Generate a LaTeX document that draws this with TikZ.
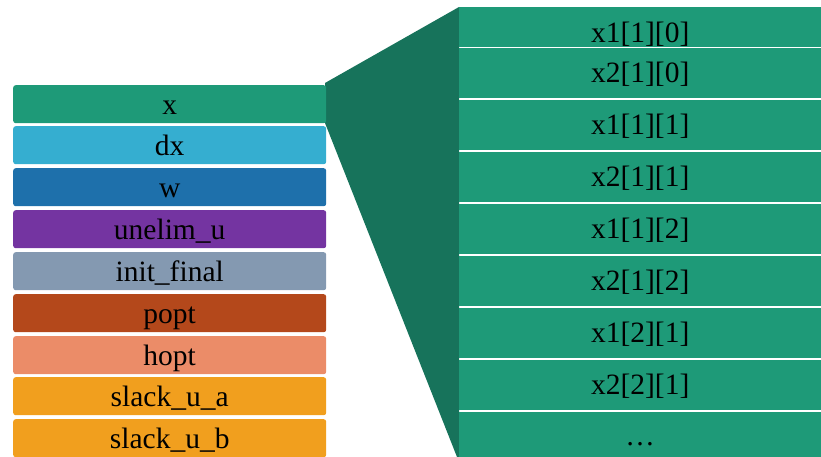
\documentclass[tikz,border=0pt]{standalone}
\usepackage{fontspec}
\setmainfont{Liberation Serif}
\definecolor{cx}{HTML}{1E9A78}
\definecolor{cdark}{HTML}{17735B}
\definecolor{cdx}{HTML}{35AED0}
\definecolor{cw}{HTML}{1E70AB}
\definecolor{cun}{HTML}{7434A1}
\definecolor{cinit}{HTML}{8499B1}
\definecolor{cpopt}{HTML}{B4481B}
\definecolor{chopt}{HTML}{EB8C68}
\definecolor{cslack}{HTML}{F19F1E}
\tikzset{
  lbox/.style={rectangle, rounded corners=2.5pt, minimum width=313pt, minimum height=38pt, inner sep=0pt, text height=20pt, text depth=0pt, anchor=north west, text=black, font=\fontsize{29.5}{34}\selectfont},
  rrow/.style={rectangle, fill=cx, minimum width=362pt, inner sep=0pt, text height=20pt, text depth=0pt, anchor=north west, text=black, font=\fontsize{29.5}{34}\selectfont},
}
\begin{document}
\begin{tikzpicture}[x=1pt,y=-1pt]
\useasboundingbox (0,0) rectangle (821,457);
% fan-out polygon
\fill[cdark] (325,83) -- (459,7) -- (459,457) -- (457,457) -- (325,123) -- cycle;
% left stack
\node[lbox, fill=cx]     (bx)  at (13,85)  {x};
\node[lbox, fill=cdx]    (bdx) at (13,126) {dx};
\node[lbox, fill=cw]     (bw)  at (13,168) {w};
\node[lbox, fill=cun]    (bun) at (13,210) {unelim\_u};
\node[lbox, fill=cinit]  (bin) at (13,252) {init\_final};
\node[lbox, fill=cpopt]  (bpo) at (13,294) {popt};
\node[lbox, fill=chopt]  (bho) at (13,336) {hopt};
\node[lbox, fill=cslack] (bsa) at (13,377) {slack\_u\_a};
\node[lbox, fill=cslack] (bsb) at (13,419) {slack\_u\_b};
% right rows
\node[rrow, minimum height=40pt, text height=30pt] (r1) at (459,7) {x1[1][0]};
\node[rrow, minimum height=49.5pt] (r2) at (459,48)    {x2[1][0]};
\node[rrow, minimum height=50pt]   (r3) at (459,99.5)  {x1[1][1]};
\node[rrow, minimum height=50pt]   (r4) at (459,151.5) {x2[1][1]};
\node[rrow, minimum height=50pt]   (r5) at (459,203.5) {x1[1][2]};
\node[rrow, minimum height=50pt]   (r6) at (459,255.5) {x2[1][2]};
\node[rrow, minimum height=50pt]   (r7) at (459,307.5) {x1[2][1]};
\node[rrow, minimum height=50pt]   (r8) at (459,359.5) {x2[2][1]};
\node[rrow, minimum height=45.5pt, text height=23pt] (r9) at (459,411.5) {\dots};
\end{tikzpicture}
\end{document}
